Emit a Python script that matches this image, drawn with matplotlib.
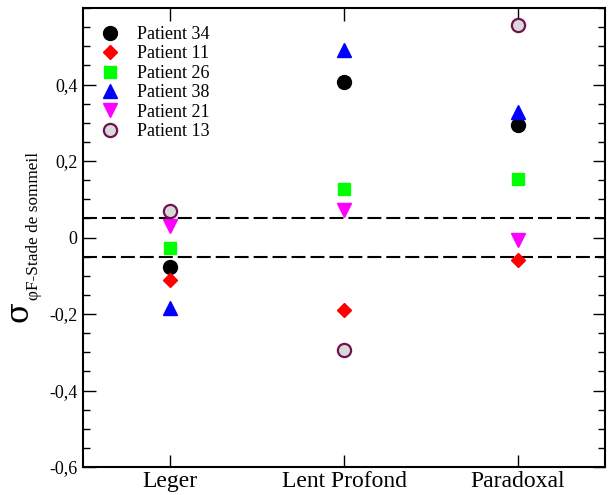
import matplotlib
matplotlib.use('Agg')
import matplotlib.pyplot as plt
from matplotlib.ticker import MultipleLocator, FixedLocator

plt.rcParams['font.family'] = ['Liberation Serif', 'DejaVu Serif']

stages = ['Leger', 'Lent Profond', 'Paradoxal']
p34 = [-0.076, 0.406, 0.294]
p11 = [-0.110, -0.189, -0.058]
p26 = [-0.027, 0.127, 0.152]
p38 = [-0.184, 0.491, 0.329]
p21 = [0.030, 0.072, -0.006]
p13 = [0.068, -0.293, 0.556]
threshold = 0.05
ytick_vals = [-0.6, -0.4, -0.2, 0.0, 0.2, 0.4]
ytick_labels = ['-0,6', '-0,4', '-0,2', '0', '0,2', '0,4']

W, H = 610, 495
fig = plt.figure(figsize=(W / 100, H / 100), dpi=100)
ax = fig.add_axes([83 / W, 28 / H, 522 / W, 459 / H])

x = [1, 2, 3]
ax.plot(x, p34, 'o', ls='none', color='black', ms=10, label='Patient 34')
ax.plot(x, p11, 'D', ls='none', color='#ff0000', ms=7.1, label='Patient 11')
ax.plot(x, p26, 's', ls='none', color='#00ff00', ms=8.4, label='Patient 26')
ax.plot(x, p38, '^', ls='none', color='#0000ff', ms=9.8, label='Patient 38')
ax.plot(x, p21, 'v', ls='none', color='#ff00ff', ms=9.8, label='Patient 21')
ax.plot(x, p13, 'o', ls='none', mfc='#d9d9d9', mec='#6e1250', mew=1.6, ms=9.5,
        label='Patient 13')

for t in (threshold, -threshold):
    ax.axhline(t, color='black', lw=1.5, dashes=(6.7, 2.4), zorder=1)

ax.set_xlim(0.5, 3.5)
ax.set_ylim(-0.6, 0.6)
ax.set_xticks(x)
ax.set_xticklabels(stages, fontsize=17)
ax.yaxis.set_major_locator(FixedLocator(ytick_vals))
ax.set_yticklabels(ytick_labels, fontsize=13)
ax.yaxis.set_minor_locator(MultipleLocator(0.05))

ax.tick_params(which='both', direction='in', top=True, right=True, width=1)
ax.tick_params(which='major', length=9, pad=4)
ax.tick_params(which='minor', length=5)
ax.tick_params(axis='x', which='major', pad=3)
for s in ax.spines.values():
    s.set_linewidth(1.5)

leg = ax.legend(loc='upper left', bbox_to_anchor=(0.0, 1.0), frameon=False,
                fontsize=13, handlelength=1.0, handletextpad=1.0,
                labelspacing=0.135, borderaxespad=0.6, numpoints=1)

# y label: sigma with subscript
fig.text(19 / W, 1 - 312 / H, 'σ', rotation=90, fontsize=22,
         family=['DejaVu Serif'], ha='center', va='center')
fig.text(34 / W, 1 - 300 / H, 'φF-Stade de sommeil', rotation=90, fontsize=12.4,
         ha='center', va='bottom')

fig.savefig('out.png', dpi=100)
